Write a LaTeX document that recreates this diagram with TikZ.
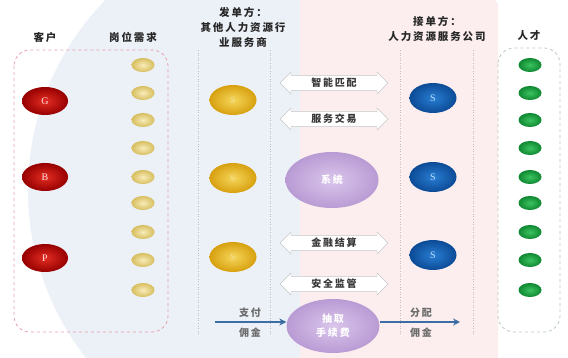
\documentclass[tikz,border=0pt]{standalone}
\usepackage{fontspec}
\setmainfont{Noto Sans CJK SC}
\newfontfamily\lat{Liberation Serif}
\newfontfamily\cjksp{Noto Sans CJK SC}[LetterSpace=18]
\usetikzlibrary{shapes.geometric,shapes.arrows,arrows.meta}
\definecolor{bgblue}{RGB}{236,240,247}
\definecolor{bgpink}{RGB}{252,238,238}
\definecolor{arrblue}{RGB}{60,110,165}
\tikzset{
  ttl/.style={font=\cjksp\fontsize{10.5}{15}\selectfont\bfseries, align=center, text=black!85},
  cust/.style={ellipse, minimum width=46, minimum height=28, inner sep=0, inner color={rgb,255:red,228;green,45;blue,35}, outer color={rgb,255:red,150;green,0;blue,0}, text=white!88!red, font=\lat\fontsize{10}{10}\selectfont},
  need/.style={ellipse, minimum width=23, minimum height=14, inner sep=0, inner color={rgb,255:red,248;green,236;blue,185}, outer color={rgb,255:red,215;green,190;blue,95}},
  sgold/.style={ellipse, minimum width=47, minimum height=30, inner sep=0, inner color={rgb,255:red,246;green,214;blue,90}, outer color={rgb,255:red,215;green,160;blue,15}, text={rgb,255:red,240;green,220;blue,150}, font=\lat\fontsize{10}{10}\selectfont},
  sblue/.style={ellipse, minimum width=47, minimum height=30, inner sep=0, inner color={rgb,255:red,40;green,125;blue,210}, outer color={rgb,255:red,12;green,75;blue,150}, text={rgb,255:red,190;green,225;blue,255}, font=\lat\fontsize{10}{10}\selectfont},
  talent/.style={ellipse, minimum width=23, minimum height=14, inner sep=0, inner color={rgb,255:red,60;green,195;blue,95}, outer color={rgb,255:red,15;green,135;blue,50}},
  darr/.style={double arrow, draw=black!22, fill=white, minimum height=108, minimum width=22, double arrow head extend=3, inner sep=1, font=\cjksp\fontsize{10}{11}\selectfont\bfseries, text=black!78},
  sys/.style={ellipse, minimum width=93, minimum height=56, inner sep=0, inner color={rgb,255:red,218;green,198;blue,236}, outer color={rgb,255:red,185;green,155;blue,212}, text=white, font=\cjksp\fontsize{10}{14}\selectfont\bfseries, align=center},
  flow/.style={draw=arrblue, line width=2.2, -{Stealth[length=7,width=7]}},
  flowtxt/.style={font=\cjksp\fontsize{10}{11}\selectfont\bfseries, text=black!58},
  colline/.style={draw=black!25, dotted, line width=0.6},
}
\begin{document}
\begin{tikzpicture}[x=1pt,y=-1pt]
\useasboundingbox (0,0) rectangle (568,358);
% background
\begin{scope}
\clip (0,0) rectangle (300,358);
\fill[bgblue] (300,190) circle[radius=272];
\end{scope}
\begin{scope}
\clip (300,0) rectangle (498,358);
\fill[bgpink] (300,190) circle[radius=272];
\end{scope}
% column lines
\draw[colline] (198,50) -- (198,335);
\draw[colline] (270,50) -- (270,335);
\draw[colline] (400,50) -- (400,335);
\draw[colline] (473,50) -- (473,335);
% boxes
\draw[draw={rgb,255:red,230;green,160;blue,170}, dashed, line width=0.8, rounded corners=16] (14,50) rectangle (168,332);
\draw[draw={rgb,255:red,185;green,200;blue,195}, dashed, line width=0.8, rounded corners=16] (498,48) rectangle (560,332);
% titles
\node[ttl] (t1) at (45,37) {客户};
\node[ttl] (t2) at (133,37) {岗位需求};
\node[ttl] (t3) at (243,27) {发单方：\\其他人力资源行\\业服务商};
\node[ttl] (t4) at (437,29) {接单方：\\人力资源服务公司};
\node[ttl] (t5) at (529,36) {人才};
% customers
\node[cust] (g) at (45,101) {G};
\node[cust] (b) at (45,177) {B};
\node[cust] (p) at (45,258) {P};
% needs and talents
\foreach \y [count=\i] in {65,93,120,148,177,203,232,260,290} {
  \node[need] (n\i) at (143,\y) {};
  \node[talent] (r\i) at (530,\y) {};
}
% senders
\node[sgold] (s1) at (233,100) {S};
\node[sgold] (s2) at (233,178) {S};
\node[sgold] (s3) at (233,257) {S};
% receivers
\node[sblue] (q1) at (433,98) {S};
\node[sblue] (q2) at (433,177) {S};
\node[sblue] (q3) at (433,255) {S};
% double arrows
\node[darr] (a1) at (334,83) {智能匹配};
\node[darr] (a2) at (334,119) {服务交易};
\node[darr] (a3) at (334,243) {金融结算};
\node[darr] (a4) at (334,284) {安全监管};
% system
\node[sys] (sys) at (332,180) {系统};
\node[sys, minimum height=54] (fee) at (333,326) {抽取\\手续费};
% flows
\coordinate (payL) at (215,322);
\coordinate (payR) at (460,322);
\draw[flow] (payL) -- (fee.west |- payL);
\draw[flow] (fee.east |- payR) -- (payR);
\node[flowtxt] (pt1) at (250,313) {支付};
\node[flowtxt] (pt2) at (250,333) {佣金};
\node[flowtxt] (pt3) at (421,313) {分配};
\node[flowtxt] (pt4) at (421,333) {佣金};
\end{tikzpicture}
\end{document}
